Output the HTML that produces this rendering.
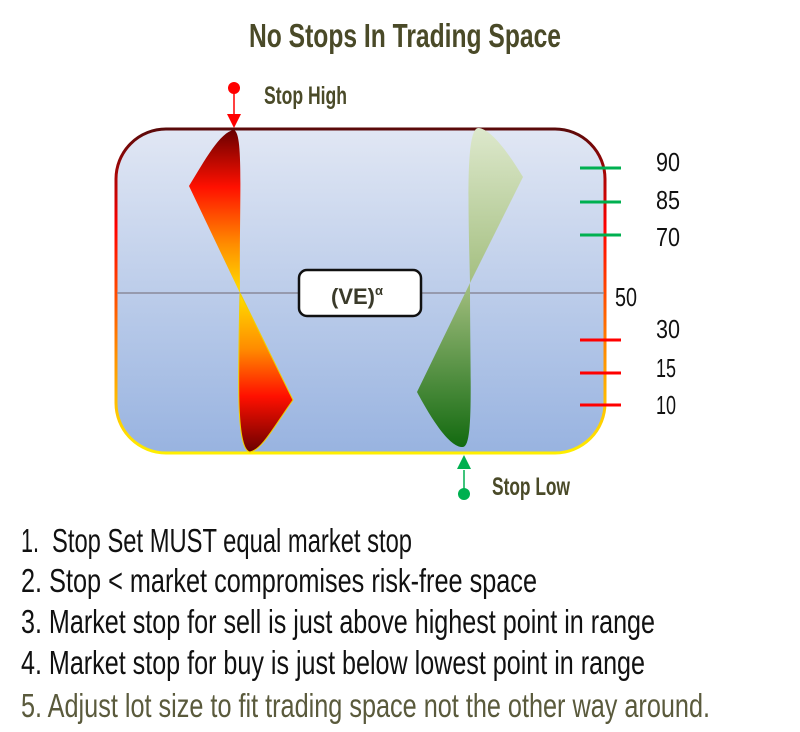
<!DOCTYPE html>
<html><head><meta charset="utf-8"><style>
html,body{margin:0;padding:0;background:#fff;width:800px;height:732px;overflow:hidden}
svg text{font-family:"Liberation Sans",sans-serif}
</style></head><body>
<svg width="800" height="732" viewBox="0 0 800 732" xmlns="http://www.w3.org/2000/svg">
<defs>
<linearGradient id="bg" x1="0" y1="0" x2="0" y2="1">
<stop offset="0" stop-color="#e1e7f4"/><stop offset="1" stop-color="#98b3e0"/></linearGradient>
<linearGradient id="bd" x1="0" y1="0" x2="0" y2="1">
<stop offset="0" stop-color="#5a0a0a"/><stop offset="0.3" stop-color="#ff0000"/><stop offset="0.7" stop-color="#ff9000"/><stop offset="1" stop-color="#ffee00"/></linearGradient>
<linearGradient id="rt" x1="0" y1="0" x2="0" y2="1">
<stop offset="0" stop-color="#6a0000"/><stop offset="0.35" stop-color="#ff1000"/><stop offset="0.7" stop-color="#ff8c00"/><stop offset="1" stop-color="#ffe000"/></linearGradient>
<linearGradient id="rb" x1="0" y1="0" x2="0" y2="1">
<stop offset="0" stop-color="#ffe000"/><stop offset="0.35" stop-color="#ff8c00"/><stop offset="0.65" stop-color="#ff1000"/><stop offset="1" stop-color="#6a0000"/></linearGradient>
<linearGradient id="gt" x1="0" y1="0" x2="0" y2="1">
<stop offset="0" stop-color="#dde8cc"/><stop offset="1" stop-color="#a4bf80"/></linearGradient>
<linearGradient id="gb" x1="0" y1="0" x2="0" y2="1">
<stop offset="0" stop-color="#a4bf80"/><stop offset="1" stop-color="#136a10"/></linearGradient>
</defs>
<text x="405" y="47" text-anchor="middle" font-size="33" font-weight="bold" fill="#4a4a28" textLength="312" lengthAdjust="spacingAndGlyphs">No Stops In Trading Space</text>

<rect x="116" y="129" width="489" height="324" rx="50" fill="url(#bg)" stroke="url(#bd)" stroke-width="3"/>
<line x1="117" y1="293" x2="604" y2="293" stroke="#8a8a9a" stroke-width="1.5"/>

<path d="M234,130 C244,134 239,200 240,293 L189,186 C205,160 220,132 234,130 Z" fill="url(#rt)"/>
<path d="M240,293 L293,400 C275,425 262,450 250,452 C236,450 238,380 240,293 Z" fill="url(#rb)" stroke="#f0d000" stroke-width="1"/>
<path d="M478,128 C466,130 468,200 470,283 L523,177 C508,152 490,128 478,128 Z" fill="url(#gt)"/>
<path d="M470,283 L417,392 C432,420 450,448 463,447 C474,446 470,380 470,283 Z" fill="url(#gb)"/>

<rect x="299" y="270" width="122" height="46" rx="8" fill="#fff" stroke="#111" stroke-width="2.5"/>
<text x="357" y="304" text-anchor="middle" font-size="22" font-weight="bold" fill="#3a3a2a">(VE)<tspan font-size="13" dy="-9">α</tspan></text>

<circle cx="234" cy="88" r="6" fill="#f00"/>
<line x1="234" y1="88" x2="234" y2="116" stroke="#f00" stroke-width="1.5"/>
<path d="M227,114 L241,114 L234,128 Z" fill="#f00"/>
<text x="264" y="104" font-size="25" font-weight="bold" fill="#4a4a28" textLength="83" lengthAdjust="spacingAndGlyphs">Stop High</text>
<circle cx="464" cy="494" r="6" fill="#00b050"/>
<line x1="464" y1="470" x2="464" y2="494" stroke="#00b050" stroke-width="1.5"/>
<path d="M457,469 L471,469 L464,455 Z" fill="#00b050"/>
<text x="492" y="495" font-size="25" font-weight="bold" fill="#4a4a28" textLength="78" lengthAdjust="spacingAndGlyphs">Stop Low</text>

<g stroke-width="3">
<line x1="580" y1="168" x2="621" y2="168" stroke="#00b050"/>
<line x1="580" y1="202" x2="621" y2="202" stroke="#00b050"/>
<line x1="580" y1="235" x2="621" y2="235" stroke="#00b050"/>
<line x1="580" y1="340" x2="621" y2="340" stroke="#f00"/>
<line x1="580" y1="373" x2="621" y2="373" stroke="#f00"/>
<line x1="580" y1="405" x2="621" y2="405" stroke="#f00"/>
</g>
<g font-size="26" fill="#111">
<text x="656" y="171" textLength="24" lengthAdjust="spacingAndGlyphs">90</text>
<text x="656" y="209" textLength="24" lengthAdjust="spacingAndGlyphs">85</text>
<text x="656" y="246" textLength="24" lengthAdjust="spacingAndGlyphs">70</text>
<text x="615" y="306" textLength="22" lengthAdjust="spacingAndGlyphs">50</text>
<text x="656" y="338" textLength="24" lengthAdjust="spacingAndGlyphs">30</text>
<text x="656" y="377" textLength="20" lengthAdjust="spacingAndGlyphs">15</text>
<text x="656" y="414" textLength="20" lengthAdjust="spacingAndGlyphs">10</text>
</g>

<g font-size="33" fill="#111">
<text x="21" y="552" textLength="18" lengthAdjust="spacingAndGlyphs">1.</text>
<text x="52" y="552" textLength="360" lengthAdjust="spacingAndGlyphs">Stop Set MUST equal market stop</text>
<text x="21" y="592" textLength="516" lengthAdjust="spacingAndGlyphs">2. Stop &lt; market compromises risk-free space</text>
<text x="21" y="633" textLength="634" lengthAdjust="spacingAndGlyphs">3. Market stop for sell is just above highest point in range</text>
<text x="21" y="674" textLength="624" lengthAdjust="spacingAndGlyphs">4. Market stop for buy is just below lowest point in range</text>
<text x="21" y="717" fill="#5a5a3c" textLength="689" lengthAdjust="spacingAndGlyphs">5. Adjust lot size to fit trading space not the other way around.</text>
</g>
</svg>
</body></html>
